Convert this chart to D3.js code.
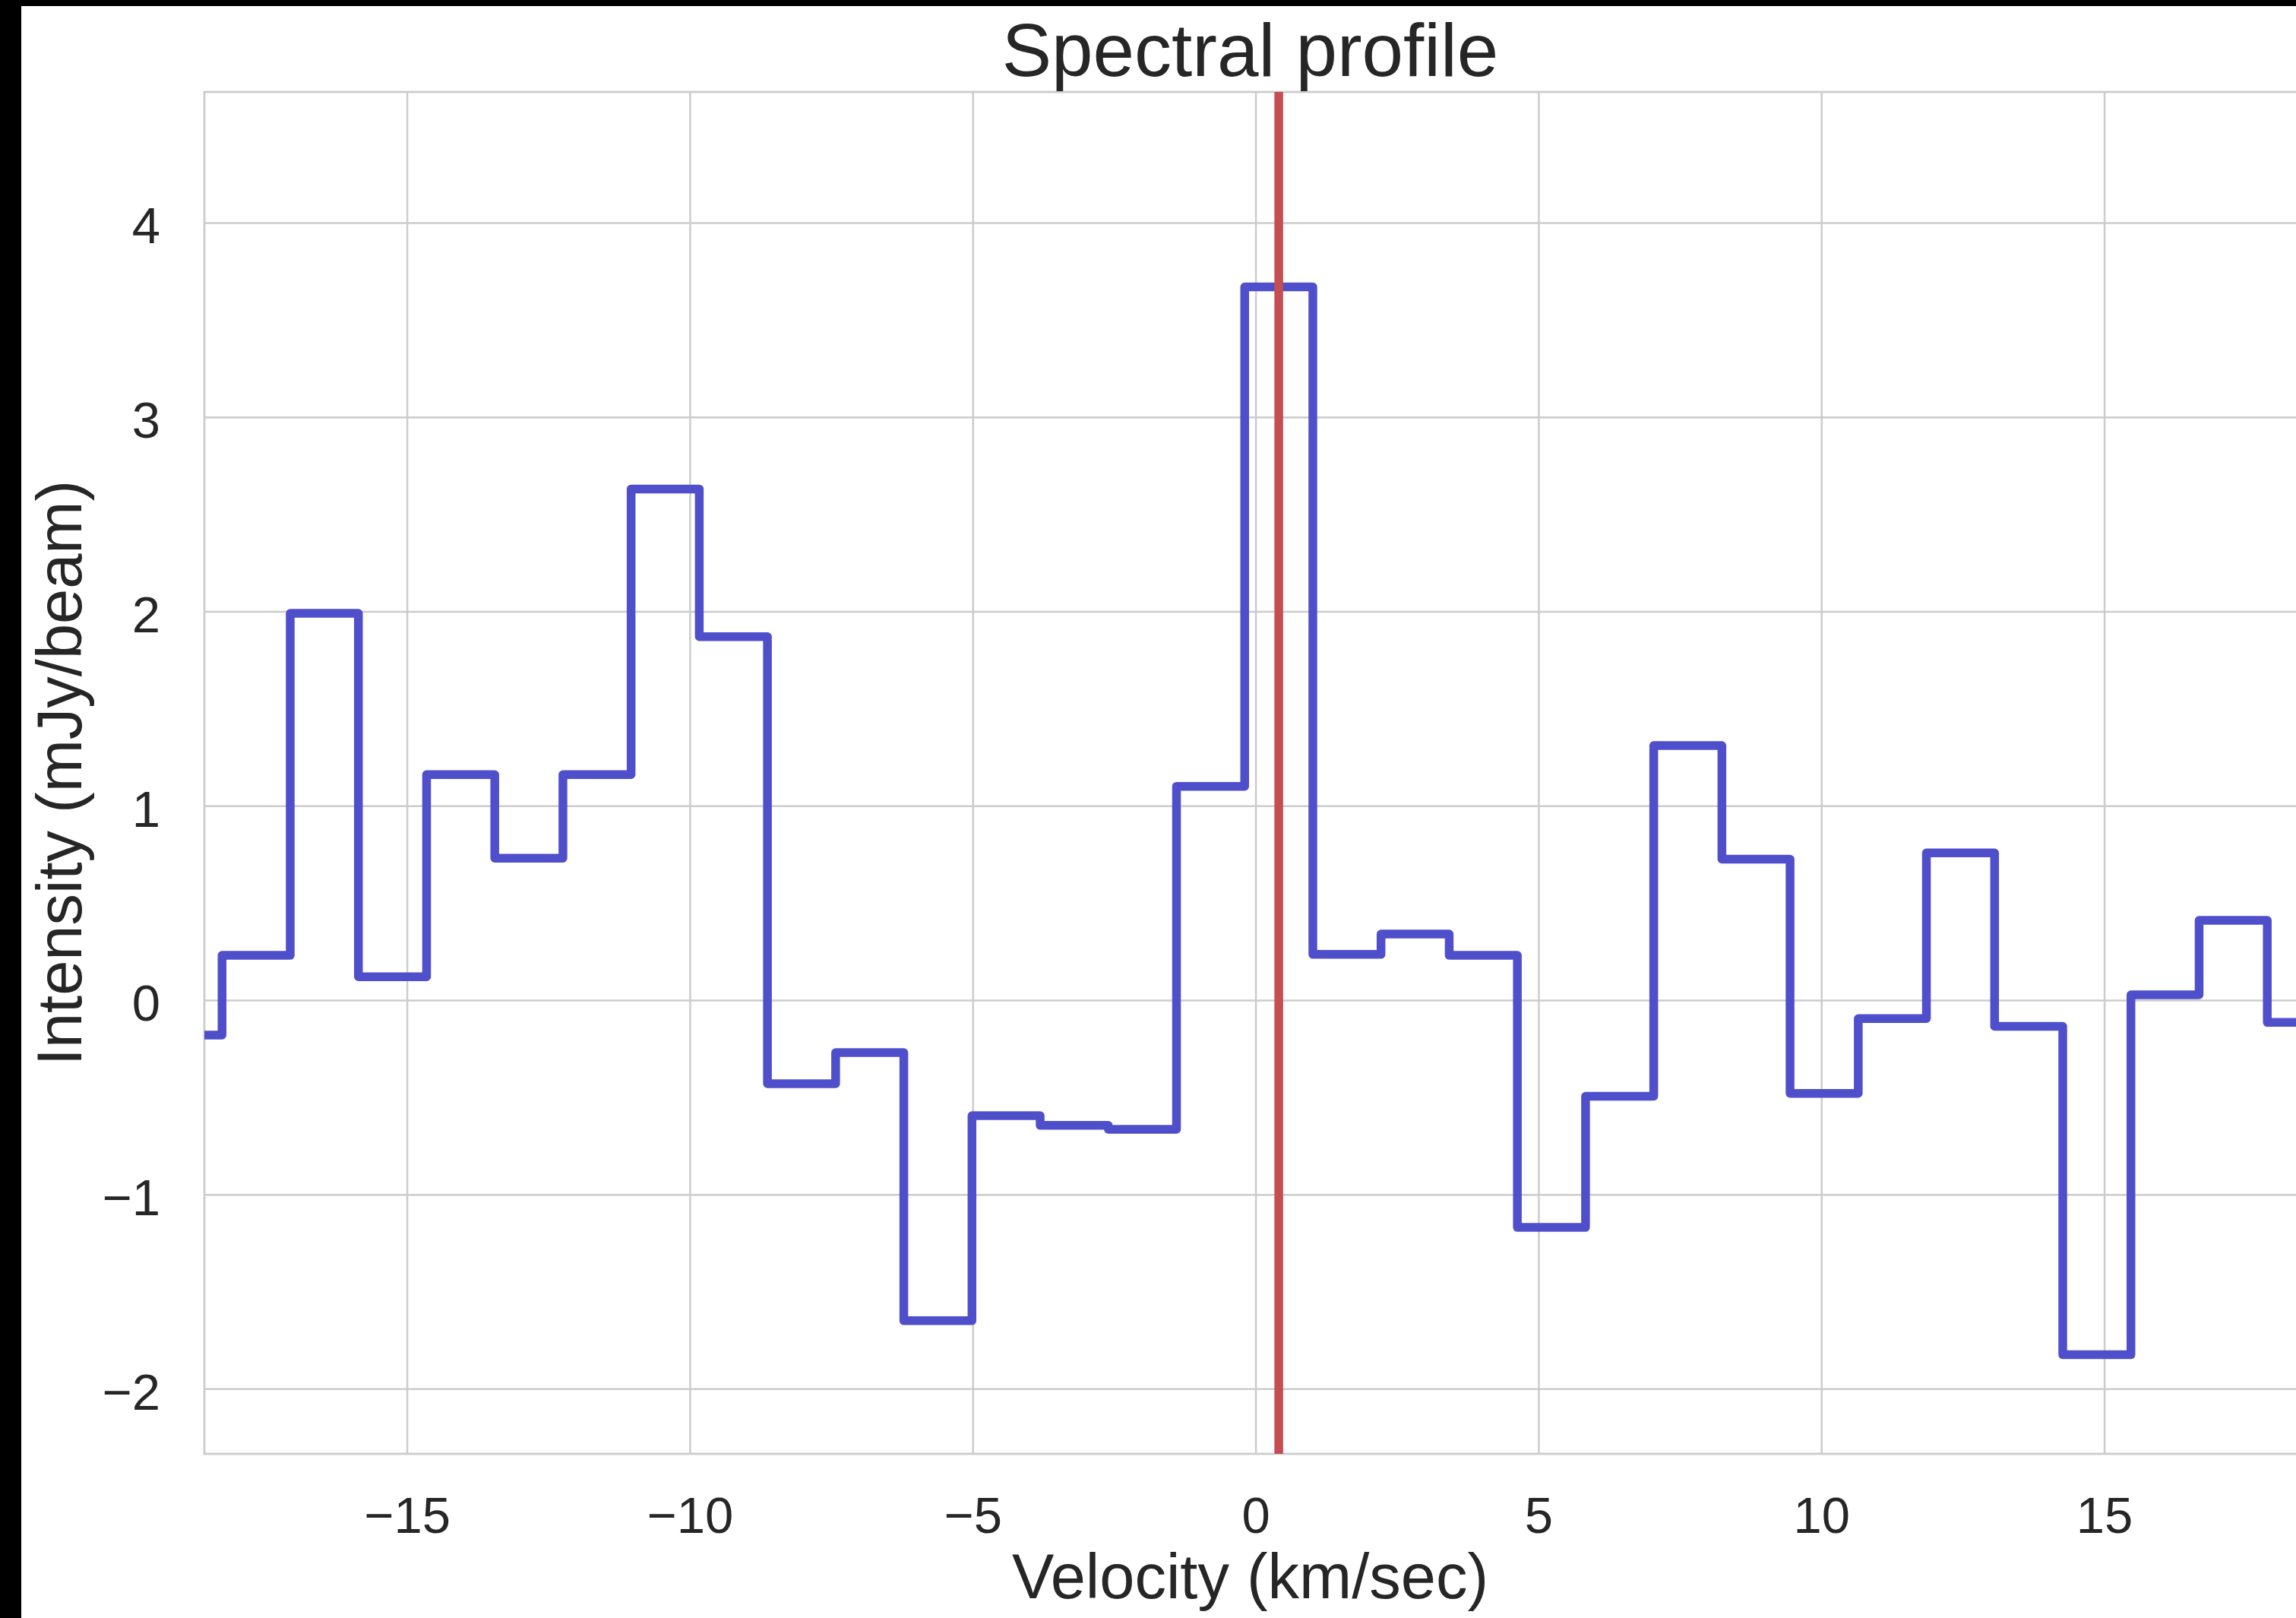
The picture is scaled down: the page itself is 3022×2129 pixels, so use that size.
<!DOCTYPE html>
<html>
<head>
<meta charset="utf-8">
<script src="https://cdn.jsdelivr.net/npm/d3@7"></script>
<style>
  html, body { margin: 0; padding: 0; background: #000; }
  svg { display: block; }
  text { font-family: "Liberation Sans", Arial, Helvetica, sans-serif; fill: #262626; }
</style>
</head>
<body>
<script>
// Channel centre velocities (km/sec)
const velocity = [
  -18.87, -17.665, -16.46, -15.255, -14.05, -12.845, -11.64, -10.435,
  -9.23, -8.025, -6.82, -5.615, -4.41, -3.205, -2.00, -0.795,
  0.41, 1.615, 2.82, 4.025, 5.23, 6.435, 7.64, 8.845,
  10.05, 11.255, 12.46, 13.665, 14.87, 16.075, 17.28, 18.485
];
// Intensity per channel (mJy/beam)
const intensity = [
  -0.18, 0.23, 1.99, 0.12, 1.16, 0.73, 1.16, 2.63,
  1.87, -0.43, -0.27, -1.65, -0.595, -0.645, -0.665, 1.10,
  3.67, 0.235, 0.34, 0.23, -1.17, -0.495, 1.31, 0.725,
  -0.48, -0.095, 0.757, -0.135, -1.825, 0.027, 0.41, -0.115
];
// Reference velocity marker (km/sec)
const markerVelocity = [0.41];

const xTickValues = [-15, -10, -5, 0, 5, 10, 15];
const yTickValues = [-2, -1, 0, 1, 2, 3, 4];
const xDomain = [-18.58, 18.39];
const yDomain = [-2.335, 4.673];

const W = 3022, H = 2129;
const plot = { left: 269, top: 121, right: 3022, bottom: 1913 };
const gridColor = "#cccccc";
const fmt = d => (d < 0 ? "\u2212" + Math.abs(d) : String(d));

const svg = d3.select("body").append("svg")
  .attr("width", W).attr("height", H);

// dark frame around the white figure
svg.append("rect").attr("width", W).attr("height", H).attr("fill", "#000");
svg.append("rect").attr("x", 28).attr("y", 8)
  .attr("width", W - 28).attr("height", H - 8).attr("fill", "#fff");

const x = d3.scaleLinear().domain(xDomain).range([plot.left, plot.right]);
const y = d3.scaleLinear().domain(yDomain).range([plot.bottom, plot.top]);

// vertical grid + x tick labels
const gx = svg.append("g")
  .attr("transform", `translate(0,${plot.bottom})`)
  .call(d3.axisBottom(x).tickValues(xTickValues)
    .tickSize(-(plot.bottom - plot.top)).tickFormat(fmt));
gx.select(".domain").remove();
gx.selectAll(".tick line").attr("stroke", gridColor).attr("stroke-width", 2.5);
gx.selectAll(".tick text")
  .attr("y", 104).attr("dy", null)
  .attr("font-size", 67).attr("fill", "#262626")
  .attr("font-family", "Liberation Sans, Arial, sans-serif");

// horizontal grid + y tick labels
const gy = svg.append("g")
  .attr("transform", `translate(${plot.left},0)`)
  .call(d3.axisLeft(y).tickValues(yTickValues)
    .tickSize(-(plot.right - plot.left)).tickFormat(fmt));
gy.select(".domain").remove();
gy.selectAll(".tick line").attr("stroke", gridColor).attr("stroke-width", 2.5);
gy.selectAll(".tick text")
  .attr("x", -58).attr("dy", "0.4em")
  .attr("font-size", 67).attr("fill", "#262626")
  .attr("font-family", "Liberation Sans, Arial, sans-serif");

// axes frame (light spines)
svg.append("rect")
  .attr("x", plot.left).attr("y", plot.top)
  .attr("width", plot.right + 4 - plot.left).attr("height", plot.bottom - plot.top)
  .attr("fill", "none").attr("stroke", gridColor).attr("stroke-width", 2.8);

// clip for the data marks
svg.append("clipPath").attr("id", "plot-clip")
  .append("rect")
  .attr("x", plot.left).attr("y", plot.top)
  .attr("width", plot.right - plot.left).attr("height", plot.bottom - plot.top);

const spectrum = velocity.map((v, i) => ({ v, f: intensity[i] }));

const stepLine = d3.line()
  .x(d => x(d.v))
  .y(d => y(d.f))
  .curve(d3.curveStep);

svg.append("path")
  .datum(spectrum)
  .attr("clip-path", "url(#plot-clip)")
  .attr("d", stepLine)
  .attr("fill", "none")
  .attr("stroke", "#4f4fcc")
  .attr("stroke-width", 11.5)
  .attr("stroke-linejoin", "round");

svg.selectAll("line.marker")
  .data(markerVelocity)
  .join("line")
  .attr("class", "marker")
  .attr("x1", d => x(d)).attr("x2", d => x(d))
  .attr("y1", plot.top).attr("y2", plot.bottom)
  .attr("stroke", "#c44e52")
  .attr("stroke-width", 11.5);

const cx = (plot.left + plot.right) / 2;
const cy = (plot.top + plot.bottom) / 2;

svg.append("text")
  .attr("x", cx).attr("y", 100)
  .attr("text-anchor", "middle")
  .attr("font-size", 98)
  .text("Spectral profile");

svg.append("text")
  .attr("x", cx).attr("y", 2103)
  .attr("text-anchor", "middle")
  .attr("font-size", 83)
  .text("Velocity (km/sec)");

svg.append("text")
  .attr("transform", `translate(107,${cy}) rotate(-90)`)
  .attr("text-anchor", "middle")
  .attr("font-size", 83)
  .text("Intensity (mJy/beam)");
</script>
</body>
</html>
